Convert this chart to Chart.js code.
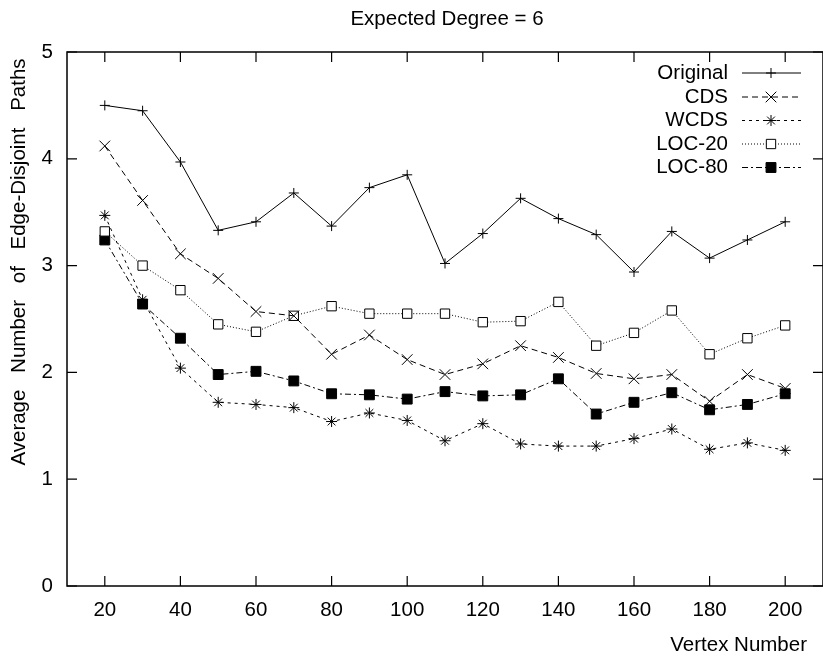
<!DOCTYPE html>
<html>
<head>
<meta charset="utf-8">
<script src="https://cdn.jsdelivr.net/npm/chart.js@4/dist/chart.umd.min.js"></script>
<style>
  html, body { margin: 0; padding: 0; background: #fff; }
</style>
</head>
<body>
<canvas id="chart" width="823" height="660"></canvas>
<script>
// vertex counts on the x axis
const vertexNumbers = [20, 30, 40, 50, 60, 70, 80, 90, 100, 110, 120, 130, 140, 150, 160, 170, 180, 190, 200];

// average number of edge-disjoint paths
const original = [4.50, 4.45, 3.97, 3.33, 3.41, 3.68, 3.37, 3.73, 3.85, 3.02, 3.30, 3.63, 3.44, 3.29, 2.94, 3.32, 3.07, 3.24, 3.41];
const cds      = [4.12, 3.61, 3.11, 2.88, 2.57, 2.53, 2.17, 2.35, 2.12, 1.98, 2.08, 2.25, 2.14, 1.99, 1.94, 1.98, 1.73, 1.98, 1.85];
const wcds     = [3.47, 2.68, 2.04, 1.72, 1.70, 1.67, 1.54, 1.62, 1.55, 1.36, 1.52, 1.33, 1.31, 1.31, 1.38, 1.47, 1.28, 1.34, 1.27];
const loc20    = [3.32, 3.00, 2.77, 2.45, 2.38, 2.53, 2.62, 2.55, 2.55, 2.55, 2.47, 2.48, 2.66, 2.25, 2.37, 2.58, 2.17, 2.32, 2.44];
const loc80    = [3.24, 2.64, 2.32, 1.98, 2.01, 1.92, 1.80, 1.79, 1.75, 1.82, 1.78, 1.79, 1.94, 1.61, 1.72, 1.81, 1.65, 1.70, 1.80];

const xTicks = [20, 40, 60, 80, 100, 120, 140, 160, 180, 200];
const yTicks = [0, 1, 2, 3, 4, 5];

const FONT = "'Liberation Sans', Arial, Helvetica, sans-serif";
const FSIZE = 20.5;
const PLOT_RIGHT = 827; // gnuplot frame runs just past the canvas edge

function series(label, values, dash, pointStyle, radius, fill) {
    return {
        label: label,
        data: values.map((v, i) => ({ x: vertexNumbers[i], y: v })),
        borderColor: '#000',
        borderWidth: 1,
        borderDash: dash,
        pointStyle: pointStyle,
        pointRadius: radius,
        pointHoverRadius: radius,
        pointBorderColor: '#000',
        pointBackgroundColor: fill,
        pointBorderWidth: 1,
        tension: 0,
        fill: false
    };
}

const datasets = [
    series('Original', original, [], 'cross', 5, '#000'),
    series('CDS', cds, [6, 4], 'crossRot', 7.5, '#000'),
    series('WCDS', wcds, [3, 4], 'star', 5.5, '#000'),
    series('LOC-20', loc20, [1, 2], 'rect', 6.6, '#fff'),
    series('LOC-80', loc80, [6, 3, 2, 3], 'rect', 7, '#000')
];

// gnuplot style frame, inward ticks, titles and key
const gnuplotLook = {
    id: 'gnuplotLook',
    beforeDatasetsDraw(chart) {
        const { ctx, chartArea: a, scales } = chart;
        ctx.save();
        ctx.strokeStyle = '#000';
        ctx.lineWidth = 1.5;
        ctx.setLineDash([]);
        ctx.strokeRect(a.left, a.top, a.right - a.left, a.bottom - a.top);
        ctx.lineWidth = 1.2;
        ctx.beginPath();
        xTicks.forEach(v => {
            const px = scales.x.getPixelForValue(v);
            ctx.moveTo(px, a.bottom); ctx.lineTo(px, a.bottom - 10);
            ctx.moveTo(px, a.top); ctx.lineTo(px, a.top + 10);
        });
        yTicks.forEach(v => {
            const py = scales.y.getPixelForValue(v);
            ctx.moveTo(a.left, py); ctx.lineTo(a.left + 10, py);
            ctx.moveTo(a.right, py); ctx.lineTo(a.right - 10, py);
        });
        ctx.stroke();
        ctx.restore();
    },
    afterDraw(chart) {
        const { ctx } = chart;
        ctx.save();
        ctx.fillStyle = '#000';
        ctx.font = FSIZE + 'px ' + FONT;

        // title
        ctx.textAlign = 'center';
        ctx.textBaseline = 'middle';
        ctx.fillText('Expected Degree = 6', 447, 19);

        // x axis title
        ctx.textAlign = 'right';
        ctx.textBaseline = 'alphabetic';
        ctx.fillText('Vertex Number', 807, 651);

        // y axis title (gnuplot leaves wide word gaps here)
        ctx.save();
        ctx.translate(19, 262);
        ctx.rotate(-Math.PI / 2);
        ctx.textAlign = 'center';
        ctx.textBaseline = 'middle';
        ctx.wordSpacing = '11px';
        ctx.fillText('Average Number of Edge-Disjoint Paths', 0, 0);
        ctx.restore();

        // key
        const rowY = [73, 97, 120.5, 144, 167.5];
        chart.data.datasets.forEach((ds, i) => {
            const y = rowY[i];
            ctx.textAlign = 'right';
            ctx.textBaseline = 'middle';
            ctx.fillStyle = '#000';
            ctx.fillText(ds.label, 728, y);
            ctx.strokeStyle = '#000';
            ctx.lineWidth = 1;
            ctx.setLineDash(ds.borderDash);
            ctx.beginPath();
            ctx.moveTo(742, y);
            ctx.lineTo(801, y);
            ctx.stroke();
            ctx.setLineDash([]);
            ctx.fillStyle = ds.pointBackgroundColor;
            Chart.helpers.drawPoint(ctx, {
                pointStyle: ds.pointStyle,
                radius: ds.pointRadius,
                rotation: 0,
                borderWidth: 1
            }, 771, y);
        });
        ctx.restore();
    }
};

const chart = new Chart(document.getElementById('chart'), {
    type: 'line',
    data: { datasets: datasets },
    plugins: [gnuplotLook],
    options: {
        responsive: false,
        animation: false,
        devicePixelRatio: 1,
        layout: { autoPadding: false, padding: { top: 52, right: -4, left: 0, bottom: 0 } },
        plugins: {
            legend: { display: false },
            title: { display: false },
            tooltip: { enabled: false }
        },
        scales: {
            x: {
                type: 'linear',
                min: 10,
                max: 210,
                grid: { display: false, drawTicks: false },
                border: { display: false },
                afterBuildTicks: scale => { scale.ticks = xTicks.map(v => ({ value: v })); },
                afterFit: scale => {
                    scale.height = 74;
                    scale.paddingLeft = 0;
                    scale.paddingRight = 0;
                },
                ticks: {
                    padding: 12,
                    color: '#000',
                    font: { family: FONT, size: FSIZE }
                }
            },
            y: {
                min: 0,
                max: 5,
                grid: { display: false, drawTicks: false },
                border: { display: false },
                afterBuildTicks: scale => { scale.ticks = yTicks.map(v => ({ value: v })); },
                afterFit: scale => {
                    scale.width = 67;
                    scale.paddingTop = 0;
                    scale.paddingBottom = 0;
                },
                ticks: {
                    padding: 14,
                    color: '#000',
                    font: { family: FONT, size: FSIZE }
                }
            }
        }
    }
});

// nudge the right padding until the plot frame ends where gnuplot put it
const gap = PLOT_RIGHT - chart.chartArea.right;
if (Math.abs(gap) > 0.5) {
    chart.options.layout.padding.right -= gap;
    chart.update();
}
</script>
</body>
</html>
